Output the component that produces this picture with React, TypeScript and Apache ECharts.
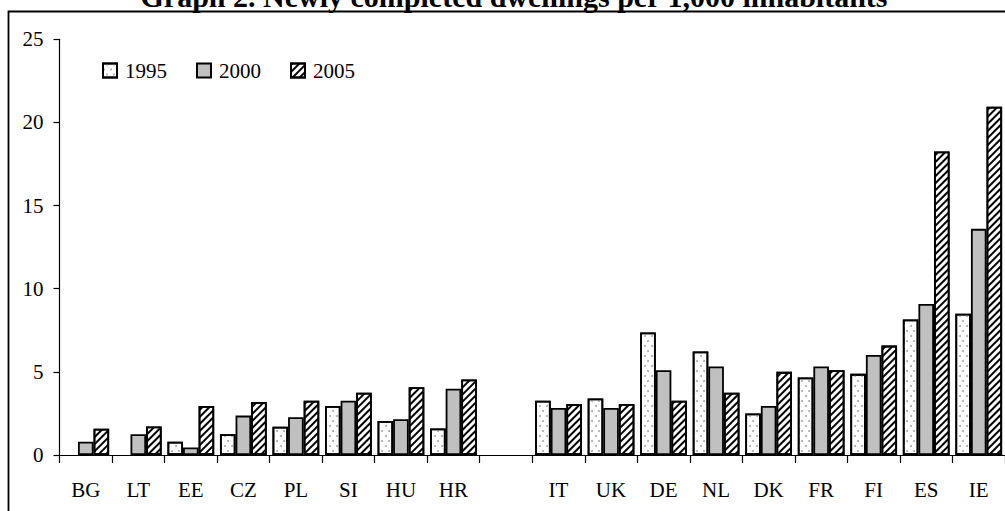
import React, { useEffect, useRef } from "react";
import * as echarts from "echarts";

const categories = ["BG", "LT", "EE", "CZ", "PL", "SI", "HU", "HR", "", "IT", "UK", "DE", "NL", "DK", "FR", "FI", "ES", "IE"];
const v1995 = [null, null, 0.8, 1.25, 1.7, 2.95, 2.05, 1.6, null, 3.27, 3.4, 7.37, 6.22, 2.5, 4.66, 4.88, 8.15, 8.5];
const v2000 = [0.8, 1.25, 0.45, 2.37, 2.27, 3.27, 2.15, 3.98, null, 2.83, 2.83, 5.1, 5.32, 2.95, 5.32, 6.02, 9.08, 13.6];
const v2005 = [1.58, 1.71, 2.95, 3.19, 3.27, 3.75, 4.08, 4.54, null, 3.07, 3.07, 3.27, 3.75, 5.0, 5.1, 6.58, 18.25, 20.95];
const seriesNames = ["1995", "2000", "2005"];
const yTicks = { min: 0, max: 25, interval: 5 };
const titleText = "Graph 2. Newly completed dwellings per 1,000 inhabitants";

const FONT = "'Liberation Serif', 'Times New Roman', serif";

export default function App() {
  const ref = useRef<HTMLDivElement>(null);
  useEffect(() => {
    if (!ref.current) return;
    const chart = echarts.init(ref.current, null, { renderer: "svg" });
    const border = { borderColor: "#000", borderWidth: 1.8 };
    chart.setOption({
      animation: false,
      backgroundColor: "#fff",
      textStyle: { fontFamily: FONT },
      graphic: [
        {
          type: "rect",
          shape: { x: 8.5, y: 11.5, width: 1200, height: 700 },
          style: { fill: "none", stroke: "#000", lineWidth: 1.8 },
          silent: true,
        },
        {
          type: "text",
          x: 514,
          y: -4,
          style: {
            text: titleText,
            fontFamily: FONT,
            fontWeight: "bold",
            fontSize: 30,
            fill: "#000",
            textAlign: "center",
            textVerticalAlign: "middle",
          },
          silent: true,
        },
      ],
      legend: {
        left: 102,
        top: 60,
        padding: 0,
        itemWidth: 14,
        itemHeight: 14,
        itemGap: 29,
        icon: "rect",
        textStyle: { fontFamily: FONT, fontSize: 21, color: "#000", padding: [0, 0, 0, 3] },
        data: seriesNames,
      },
      grid: { left: 59.5, right: -7, top: 39.3, bottom: 56 },
      xAxis: {
        type: "category",
        data: categories,
        axisLine: { lineStyle: { color: "#000", width: 1.2 } },
        axisTick: { show: true, length: 8, lineStyle: { color: "#000", width: 1.2 }, alignWithLabel: false, interval: 0 },
        axisLabel: { fontFamily: FONT, fontSize: 21, color: "#000", margin: 24, interval: 0 },
        splitLine: { show: false },
      },
      yAxis: {
        type: "value",
        min: yTicks.min,
        max: yTicks.max,
        interval: yTicks.interval,
        axisLine: { show: true, lineStyle: { color: "#000", width: 1.2 } },
        axisTick: { show: true, length: 6, lineStyle: { color: "#000", width: 1.2 } },
        axisLabel: { fontFamily: FONT, fontSize: 21, color: "#000", margin: 16 },
        splitLine: { show: false },
      },
      series: [
        {
          name: seriesNames[0],
          type: "bar",
          data: v1995,
          barGap: "0%",
          barCategoryGap: "11%",
          itemStyle: {
            color: "#fff",
            ...border,
            decal: {
              symbol: "circle",
              symbolSize: 1,
              color: "#aaa",
              dashArrayX: [[1.6, 4.4], [0, 3, 1.6, 1.4]],
              dashArrayY: [1.6, 2.4],
              rotation: 0,
            },
          },
        },
        {
          name: seriesNames[1],
          type: "bar",
          data: v2000,
          barGap: "0%",
          barCategoryGap: "11%",
          itemStyle: { color: "#c0c0c0", ...border },
        },
        {
          name: seriesNames[2],
          type: "bar",
          data: v2005,
          barGap: "0%",
          barCategoryGap: "11%",
          itemStyle: {
            color: "#fff",
            ...border,
            decal: {
              symbol: "rect",
              symbolSize: 1,
              color: "#000",
              dashArrayX: [1, 0],
              dashArrayY: [1.6, 2.6],
              rotation: -Math.PI / 4,
            },
          },
        },
      ],
    });
    return () => chart.dispose();
  }, []);
  return (
    <div
      ref={ref}
      style={{ position: "fixed", left: 0, top: 0, width: 1005, height: 511 }}
    />
  );
}
